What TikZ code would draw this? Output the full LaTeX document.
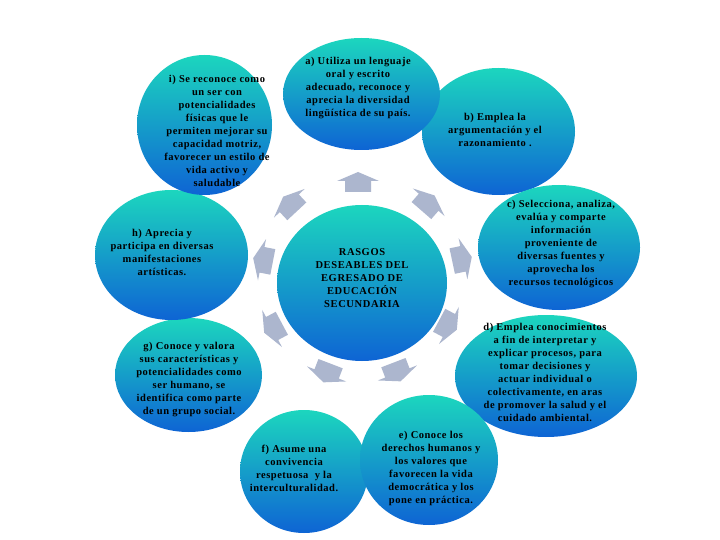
\documentclass[tikz,border=0pt]{standalone}
\usepackage{fontspec}
\setmainfont{Liberation Serif}
\newfontfamily\bubfont[LetterSpace=5]{Liberation Serif}
\newfontfamily\cenfont[LetterSpace=6]{Liberation Serif}
\definecolor{bubtop}{RGB}{28,214,190}
\definecolor{bubmid}{RGB}{38,188,228}
\definecolor{bubbot}{RGB}{14,100,212}
\definecolor{arrowgrey}{RGB}{172,182,206}
\begin{document}
\begin{tikzpicture}[x=1pt,y=-1pt,
  bubble/.style={top color=bubtop, middle color=bubmid, bottom color=bubbot, draw=none},
  txt/.style={font=\bubfont\bfseries\fontsize{10.5}{13}\selectfont, align=center, text=black, inner sep=0pt},
  ctxt/.style={font=\cenfont\bfseries\fontsize{10.5}{13}\selectfont, align=center, text=black, inner sep=0pt},
  barrow/.pic={\fill[arrowgrey] (-10,-13) -- (1,-13) -- (1,-21) -- (10,0) -- (1,21) -- (1,13) -- (-10,13) -- cycle;}
]
\useasboundingbox (0,0) rectangle (720,540);
\fill[white] (0,0) rectangle (720,540);

% bubbles
\shade[bubble] (498.5,131.5) ellipse [x radius=76.5pt, y radius=63.5pt];
\shade[bubble] (559,247.5) ellipse [x radius=81pt, y radius=62.5pt];
\shade[bubble] (546,376) ellipse [x radius=91pt, y radius=61pt];
\shade[bubble] (304,471.5) ellipse [x radius=64pt, y radius=61.5pt];
\shade[bubble] (429,460) ellipse [x radius=69pt, y radius=65pt];
\shade[bubble] (188.5,375) ellipse [x radius=73.5pt, y radius=57pt];
\shade[bubble] (171.5,255) ellipse [x radius=76.5pt, y radius=65pt];
\shade[bubble] (204.5,125) ellipse [x radius=67.5pt, y radius=70pt];
\shade[bubble] (361.5,94) ellipse [x radius=78.5pt, y radius=56pt];
\shade[bubble] (362,283) ellipse [x radius=85pt, y radius=78pt];

% arrows around the centre
\pic[rotate=90] at (358,182) {barrow};
\pic[rotate=133] at (290,204) {barrow};
\pic[rotate=49] at (428,203) {barrow};
\pic[rotate=12] at (462,259) {barrow};
\pic[rotate=-28] at (448,325) {barrow};
\pic[rotate=-69] at (397,372) {barrow};
\pic[rotate=-111] at (327,373) {barrow};
\pic[rotate=-152] at (273,328) {barrow};
\pic[rotate=169] at (263,260) {barrow};

% texts
\node[ctxt] (centro) at (362,278) {RASGOS\\DESEABLES DEL\\EGRESADO DE\\EDUCACIÓN\\SECUNDARIA};
\node[txt] (ti) at (217,130.5) {i) Se reconoce como\\un ser con\\potencialidades\\físicas que le\\permiten mejorar su\\capacidad motriz,\\favorecer un estilo de\\vida activo y\\saludable};
\node[txt] (ta) at (358,88) {a) Utiliza un lenguaje\\oral y escrito\\adecuado, reconoce y\\aprecia la diversidad\\lingüística de su país.};
\node[txt] (tb) at (495,130) {b) Emplea la\\argumentación y el\\razonamiento .};
\node[txt] (tc) at (561,244) {c) Selecciona, analiza,\\evalúa y comparte\\información\\proveniente de\\diversas fuentes y\\aprovecha los\\recursos tecnológicos};
\node[txt] (td) at (545,372.5) {d) Emplea conocimientos\\a fin de interpretar y\\explicar procesos, para\\tomar decisiones y\\actuar individual o\\colectivamente, en aras\\de promover la salud y el\\cuidado ambiental.};
\node[txt] (te) at (431,468) {e) Conoce los\\derechos humanos y\\los valores que\\favorecen la vida\\democrática y los\\pone en práctica.};
\node[txt] (tf) at (294,468.5) {f) Asume una\\convivencia\\respetuosa~ y la\\interculturalidad.};
\node[txt] (tg) at (189,379.5) {g) Conoce y valora\\sus características y\\potencialidades como\\ser humano, se\\identifica como parte\\de un grupo social.};
\node[txt] (th) at (162,252) {h) Aprecia y\\participa en diversas\\manifestaciones\\artísticas.};
\end{tikzpicture}
\end{document}
